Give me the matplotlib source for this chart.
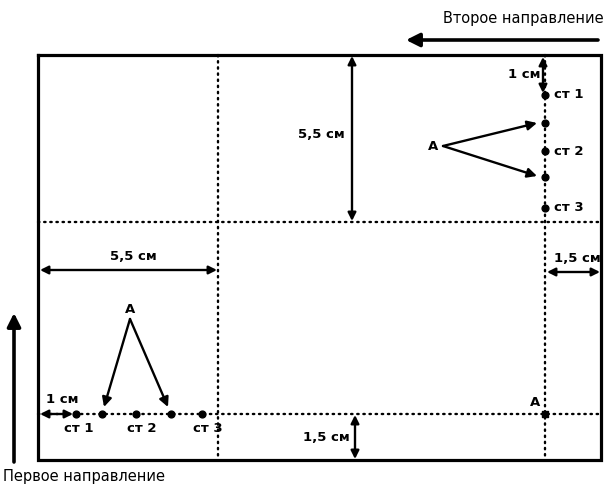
import matplotlib.pyplot as plt

# frame of the plot (image units, y grows downward)
frame_x = [38, 601]
frame_y = [55, 460]

# dotted guide lines
guide_x = [218, 545]
guide_y = [222, 414]

# points along the first direction (bottom row)
bottom_pts_x = [76, 102, 136, 171, 202]
bottom_pt_y = 414
bottom_labels = ["ст 1", "ст 2", "ст 3"]
bottom_label_x = [79, 142, 208]

# points along the second direction (right column)
right_pt_x = 545
right_pts_y = [95, 123, 151, 177, 208]
right_labels = ["ст 1", "ст 2", "ст 3"]
right_label_y = [95, 151, 207]

# dimension arrows: (x0, y0, x1, y1, label, label_x, label_y, ha)
dims = [
    (543, 57, 543, 93, "1 см", 540, 75, "right"),
    (352, 56, 352, 221, "5,5 см", 345, 134, "right"),
    (40, 270, 217, 270, "5,5 см", 133, 256, "center"),
    (547, 272, 600, 272, "1,5 см", 577, 258, "center"),
    (355, 415, 355, 459, "1,5 см", 350, 437, "right"),
    (40, 414, 73, 414, "1 см", 62, 399, "center"),
]

plt.rcParams['font.family'] = ['DejaVu Sans']
fig = plt.figure(figsize=(6.06, 4.86), dpi=100)
ax = fig.add_axes([0, 0, 1, 1])
ax.set_xlim(0, 606)
ax.set_ylim(486, 0)
ax.axis('off')

fs = 9.5
tkw = dict(fontsize=fs, fontweight='bold', color='black', va='center')

# frame
ax.plot([frame_x[0], frame_x[1], frame_x[1], frame_x[0], frame_x[0]],
        [frame_y[0], frame_y[0], frame_y[1], frame_y[1], frame_y[0]],
        color='black', lw=2.3, solid_joinstyle='miter')

# dotted guides
for gx in guide_x:
    ax.plot([gx, gx], frame_y, color='black', lw=1.7, ls=(0, (0.6, 2.0)),
            dash_capstyle='round')
for gy in guide_y:
    ax.plot(frame_x, [gy, gy], color='black', lw=1.7, ls=(0, (0.6, 2.0)),
            dash_capstyle='round')

# points
ax.scatter(bottom_pts_x, [bottom_pt_y] * len(bottom_pts_x), s=24, color='black', zorder=5)
ax.scatter([right_pt_x] * len(right_pts_y), right_pts_y, s=24, color='black', zorder=5)
ax.scatter([545], [414], s=24, marker='s', color='black', zorder=5)

for lab, lx in zip(bottom_labels, bottom_label_x):
    ax.text(lx, 428, lab, ha='center', **tkw)
for lab, ly in zip(right_labels, right_label_y):
    ax.text(554, ly, lab, ha='left', **tkw)

# dimension arrows
akw = dict(arrowstyle='<|-|>', color='black', lw=1.7, mutation_scale=12,
           shrinkA=0, shrinkB=0)
for x0, y0, x1, y1, lab, lx, ly, ha in dims:
    ax.annotate('', xy=(x1, y1), xytext=(x0, y0), arrowprops=akw)
    ax.text(lx, ly, lab, ha=ha, **tkw)

# "A" pointers
pkw = dict(arrowstyle='-|>', color='black', lw=1.7, mutation_scale=14,
           shrinkA=0, shrinkB=0)
ax.text(433, 146, "A", ha='center', **tkw)
ax.annotate('', xy=(537, 123), xytext=(443, 146), arrowprops=pkw)
ax.annotate('', xy=(537, 176), xytext=(443, 146), arrowprops=pkw)

ax.text(130, 309, "A", ha='center', **tkw)
ax.annotate('', xy=(104, 407), xytext=(130, 319), arrowprops=pkw)
ax.annotate('', xy=(168, 407), xytext=(130, 319), arrowprops=pkw)

ax.text(535, 402, "A", ha='center', **tkw)

# direction arrows
dkw = dict(arrowstyle='-|>', color='black', lw=2.6, mutation_scale=20,
           shrinkA=0, shrinkB=0)
ax.annotate('', xy=(406, 40), xytext=(598, 40), arrowprops=dkw)
ax.text(604, 19, "Второе направление", ha='right', fontsize=10.5, color='black', va='center')
ax.annotate('', xy=(14, 313), xytext=(14, 462), arrowprops=dkw)
ax.text(3, 476, "Первое направление", ha='left', fontsize=10.5, color='black', va='center')

fig.savefig('out.png', dpi=100, facecolor='white')
